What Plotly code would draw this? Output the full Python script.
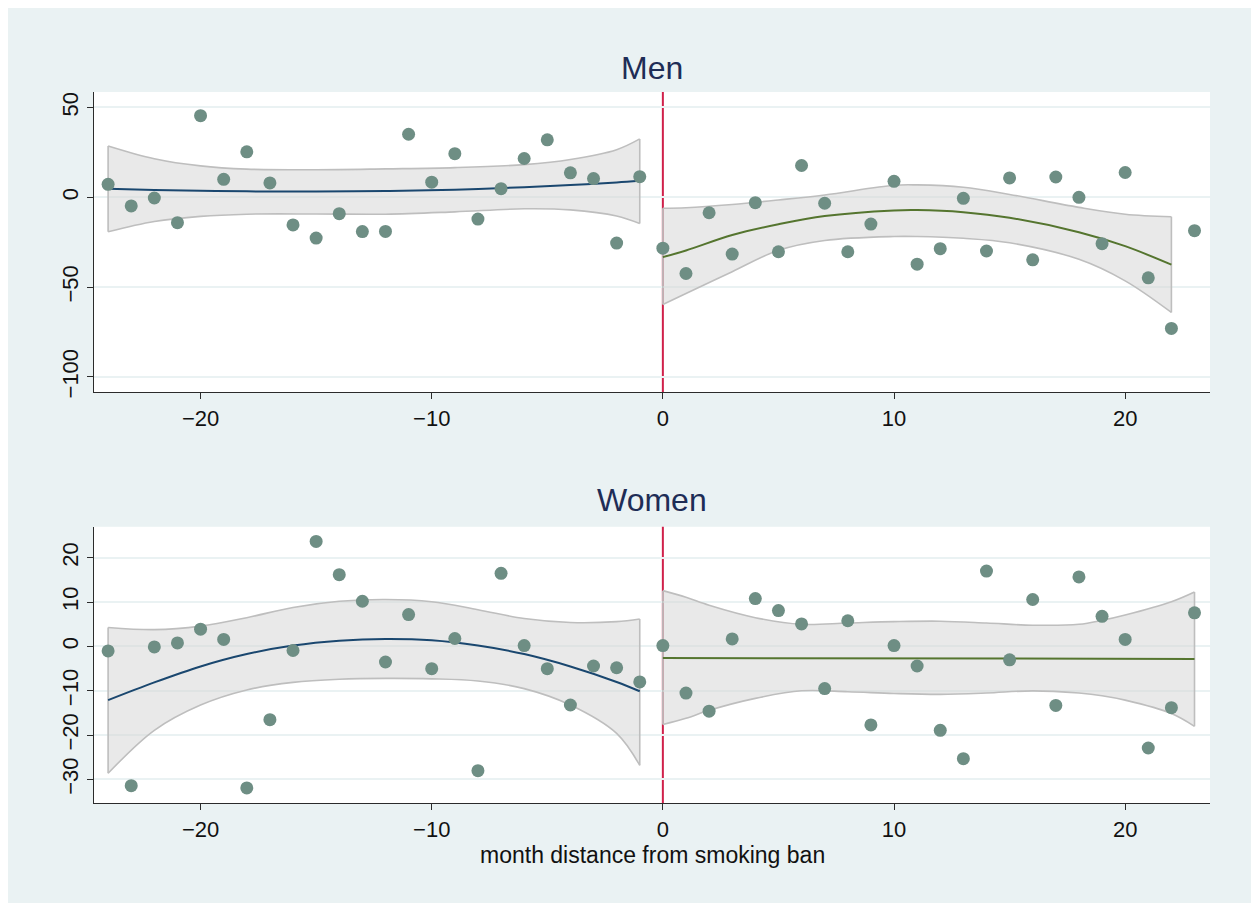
import plotly.graph_objects as go
from plotly.subplots import make_subplots

# ---------------- data ----------------
# Men: monthly points
men_x_pre = list(range(-24, 0))
men_y_pre = [7.2, -4.8, -0.4, -14.1, 45.4, 10.0, 25.3, 8.0, -15.4, -22.7, -9.1, -19.1,
             -19.0, 35.1, 8.4, 24.3, -12.1, 4.8, 21.6, 32.0, 13.6, 10.4, -25.5, 11.5]
men_x_post = list(range(0, 24))
men_y_post = [-28.3, -42.4, -8.6, -31.6, -3.0, -30.3, 17.7, -3.3, -30.3, -14.9, 8.9, -37.2,
              -28.6, -0.6, -29.9, 10.8, -34.8, 11.3, 0.0, -25.8, 13.8, -44.8, -73.0, -18.6]

# Men: fitted curve and confidence band
men_fx_pre = [-24, -22, -20, -18, -15, -12, -9, -6, -4, -2, -1]
men_fit_pre = [4.8, 4.1, 3.6, 3.3, 3.2, 3.5, 4.2, 5.6, 6.8, 8.3, 9.2]
men_hi_pre = [28.6, 21.5, 17.5, 15.7, 15.3, 15.8, 16.5, 18.2, 21.0, 26.5, 32.5]
men_lo_pre = [-19.2, -13.5, -10.6, -9.4, -9.3, -9.4, -8.1, -6.4, -7.0, -10.4, -14.6]

men_fx_post = [0, 1, 3, 5, 7, 10, 11, 13, 15, 18, 20, 22]
men_fit_post = [-33.3, -29.6, -21.0, -15.0, -10.4, -7.3, -7.1, -8.3, -11.4, -19.4, -27.2, -37.5]
men_hi_post = [-6.1, -5.8, -4.0, -1.5, 1.3, 6.7, 6.9, 5.6, 1.6, -5.6, -9.4, -10.8]
men_lo_post = [-59.7, -53.5, -41.4, -29.5, -24.0, -21.8, -21.8, -22.8, -25.3, -34.5, -46.5, -64.1]

# Women: monthly points
wom_x_pre = list(range(-24, 0))
wom_y_pre = [-1.0, -31.4, -0.1, 0.8, 3.9, 1.6, -31.9, -16.5, -0.9, 23.7, 16.2, 10.2,
             -3.5, 7.2, -5.0, 1.8, -28.0, 16.5, 0.2, -5.0, -13.2, -4.4, -4.8, -8.0]
wom_x_post = list(range(0, 24))
wom_y_post = [0.2, -10.5, -14.6, 1.7, 10.8, 8.1, 5.1, -9.5, 5.8, -17.7, 0.2, -4.4,
              -18.9, -25.3, 17.0, -3.0, 10.6, -13.3, 15.7, 6.8, 1.6, -22.9, -13.8, 7.6]

# Women: fitted curve and confidence band
wom_fx_pre = [-24, -22, -20, -18, -16, -14, -12, -10, -8, -6, -4, -2, -1]
wom_fit_pre = [-12.1, -8.1, -4.5, -1.7, 0.2, 1.3, 1.7, 1.4, 0.2, -1.7, -4.5, -8.0, -10.1]
wom_hi_pre = [4.3, 3.8, 4.6, 6.5, 8.8, 10.2, 10.6, 10.1, 8.3, 6.3, 5.4, 5.6, 6.2]
wom_lo_pre = [-28.6, -18.9, -13.2, -9.8, -8.1, -7.4, -7.2, -7.3, -7.8, -9.5, -13.2, -19.6, -26.8]

wom_fitx_post = [0, 23]
wom_fit_post = [-2.6, -2.8]
wom_bx_post = [0, 1, 2, 4, 6, 8, 10, 12, 14, 16, 18, 19, 20, 22, 23]
wom_hi_post = [12.6, 11.1, 9.3, 6.5, 5.0, 5.3, 5.6, 5.7, 5.3, 4.8, 5.0, 5.9, 7.1, 10.1, 12.3]
wom_lo_post = [-17.6, -16.2, -14.4, -11.7, -10.0, -10.2, -10.6, -10.8, -10.5, -10.0, -10.5,
               -11.1, -12.1, -15.1, -18.0]

panel_titles = ["Men", "Women"]
x_title = "month distance from smoking ban"
x_ticks = [-20, -10, 0, 10, 20]
men_y_ticks = [50, 0, -50, -100]
wom_y_ticks = [20, 10, 0, -10, -20, -30]

# ---------------- style ----------------
FONT = "Liberation Sans, Arial, Helvetica, sans-serif"
BG = "#EAF2F3"
TEAL = "#6E8E84"
NAVY = "#1A476F"
GREEN = "#55752F"
RED = "#D0204A"
BAND_FILL = "rgba(212,212,212,0.5)"
BAND_LINE = "rgb(190,190,190)"

fig = make_subplots(rows=2, cols=1, shared_xaxes=False, vertical_spacing=0.1)


def add_band(bx, hi, lo, row):
    fig.add_trace(go.Scatter(x=bx, y=hi, mode="lines", line=dict(color=BAND_LINE, width=1.6, shape="spline"),
                             hoverinfo="skip", showlegend=False), row=row, col=1)
    fig.add_trace(go.Scatter(x=bx, y=lo, mode="lines", line=dict(color=BAND_LINE, width=1.6, shape="spline"),
                             fill="tonexty", fillcolor=BAND_FILL, hoverinfo="skip", showlegend=False),
                  row=row, col=1)
    fig.add_trace(go.Scatter(x=[bx[0], bx[0], None, bx[-1], bx[-1]],
                             y=[lo[0], hi[0], None, lo[-1], hi[-1]], mode="lines",
                             line=dict(color=BAND_LINE, width=1.6), hoverinfo="skip", showlegend=False),
                  row=row, col=1)


def add_fit(fx, fy, color, row):
    fig.add_trace(go.Scatter(x=fx, y=fy, mode="lines", line=dict(color=color, width=2, shape="spline"),
                             showlegend=False), row=row, col=1)


def add_pts(px, py, row):
    fig.add_trace(go.Scatter(x=px, y=py, mode="markers",
                             marker=dict(color=TEAL, size=13, line=dict(width=0)), showlegend=False),
                  row=row, col=1)


# Men panel
add_band(men_fx_pre, men_hi_pre, men_lo_pre, 1)
add_band(men_fx_post, men_hi_post, men_lo_post, 1)
add_fit(men_fx_pre, men_fit_pre, NAVY, 1)
add_fit(men_fx_post, men_fit_post, GREEN, 1)
add_pts(men_x_pre + men_x_post, men_y_pre + men_y_post, 1)

# Women panel
add_band(wom_fx_pre, wom_hi_pre, wom_lo_pre, 2)
add_band(wom_bx_post, wom_hi_post, wom_lo_post, 2)
add_fit(wom_fx_pre, wom_fit_pre, NAVY, 2)
add_fit(wom_fitx_post, wom_fit_post, GREEN, 2)
add_pts(wom_x_pre + wom_x_post, wom_y_pre + wom_y_post, 2)

axis_common = dict(showline=True, linecolor="#2b2b2b", linewidth=1.3, ticks="outside", ticklen=6,
                   tickwidth=1.3, tickcolor="#2b2b2b", zeroline=False,
                   tickfont=dict(family=FONT, size=22, color="#111111"))

for r in (1, 2):
    fig.update_xaxes(range=[-24.61, 23.67], tickvals=x_ticks, showgrid=False, row=r, col=1, **axis_common)

fig.update_yaxes(range=[-108.5, 58.6], tickvals=men_y_ticks, tickangle=-90, showgrid=True,
                 gridcolor=BG, gridwidth=2, domain=[0.5777, 1.0], row=1, col=1, **axis_common)
fig.update_yaxes(range=[-35.3, 27.0], tickvals=wom_y_ticks, tickangle=-90, showgrid=True,
                 gridcolor=BG, gridwidth=2, domain=[0.0, 0.3885], row=2, col=1, **axis_common)

# vertical reference line at the ban
for yref, xref in (("y domain", "x"), ("y2 domain", "x2")):
    fig.add_shape(type="line", x0=0, x1=0, y0=0, y1=1, xref=xref, yref=yref,
                  line=dict(color=RED, width=2), layer="below")

fig.update_layout(
    width=1246, height=895,
    margin=dict(l=86.2, r=44.2, t=84.3, b=100.3),
    paper_bgcolor=BG, plot_bgcolor="white",
    showlegend=False,
    font=dict(family=FONT),
    annotations=[
        dict(text=panel_titles[0], x=0.5, y=1.0342, xref="paper", yref="paper", showarrow=False,
             xanchor="center", yanchor="middle", font=dict(family=FONT, size=32, color="#1E2D56")),
        dict(text=panel_titles[1], x=0.5, y=0.4261, xref="paper", yref="paper", showarrow=False,
             xanchor="center", yanchor="middle", font=dict(family=FONT, size=32, color="#1E2D56")),
        dict(text=x_title, x=0.5, y=-0.0725, xref="paper", yref="paper", showarrow=False,
             xanchor="center", yanchor="middle", font=dict(family=FONT, size=23, color="#111111")),
    ],
)

fig.write_html("out.html")
